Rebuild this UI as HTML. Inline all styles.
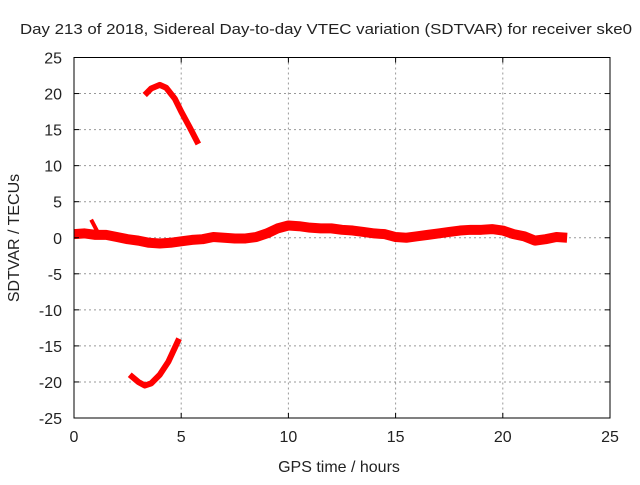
<!DOCTYPE html>
<html><head><meta charset="utf-8"><style>
body{margin:0;background:#fff}
svg text{font-family:"Liberation Sans",sans-serif;font-size:16px;fill:#222}
</style></head><body>
<svg id="c" width="640" height="480">
<text x="20" y="34" textLength="612" lengthAdjust="spacingAndGlyphs" style="font-size:15px">Day 213 of 2018, Sidereal Day-to-day VTEC variation (SDTVAR) for receiver ske0</text>
<g id="grid"></g><g id="marks"></g><g id="axes"></g>
<text x="339" y="472" text-anchor="middle">GPS time / hours</text>
<text transform="translate(19,238) rotate(-90)" text-anchor="middle">SDTVAR / TECUs</text>
</svg>
<script>
const xTicks=[0,5,10,15,20,25];
const yTicks=[-25,-20,-15,-10,-5,0,5,10,15,20,25];
const mainX=[0,0.5,1,1.5,2,2.5,3,3.5,4,4.5,5,5.5,6,6.5,7,7.5,8,8.5,9,9.5,10,10.5,11,11.5,12,12.5,13,13.5,14,14.5,15,15.5,16,16.5,17,17.5,18,18.5,19,19.5,20,20.5,21,21.5,22,22.5,23];
const mainY=[0.5,0.6,0.4,0.4,0.1,-0.2,-0.4,-0.7,-0.8,-0.7,-0.5,-0.3,-0.2,0.1,0,-0.1,-0.1,0.1,0.6,1.3,1.7,1.6,1.4,1.3,1.3,1.1,1.0,0.8,0.6,0.5,0.1,0,0.2,0.4,0.6,0.8,1.0,1.1,1.1,1.2,1.0,0.5,0.2,-0.4,-0.2,0.1,0];
const spikeX=[0.8,1.1];
const spikeY=[2.5,0.8];
const upperX=[3.3,3.6,4.0,4.3,4.7,5.0,5.4,5.8];
const upperY=[19.8,20.7,21.2,20.8,19.3,17.5,15.3,13];
const lowerX=[2.6,3.0,3.3,3.6,4.0,4.4,4.9];
const lowerY=[-19,-20,-20.5,-20.2,-19,-17.2,-14];
const L=74,R=610,T=57.5,B=418;
const sx=v=>L+(v-0)/(25-0)*(R-L);
const sy=v=>B-(v+25)/50*(B-T);
const NS="http://www.w3.org/2000/svg";
function mk(tag,attrs,parent){const e=document.createElementNS(NS,tag);for(const k in attrs)e.setAttribute(k,attrs[k]);document.getElementById(parent).appendChild(e);return e;}
xTicks.forEach(v=>{
 if(v>0&&v<25){const g=mk('line',{x1:sx(v),x2:sx(v),y1:T,y2:B,stroke:'#999','stroke-dasharray':'2,3'},'grid');
 
 }
 const t=mk('text',{x:sx(v),y:B+24,'text-anchor':'middle'},'axes');t.textContent=v;
 
 
 mk('line',{x1:sx(v),x2:sx(v),y1:B,y2:B-5,stroke:'#000'},'axes');
 mk('line',{x1:sx(v),x2:sx(v),y1:T,y2:T+5,stroke:'#000'},'axes');
});
yTicks.forEach(v=>{
 if(v>-25&&v<25){const g=mk('line',{x1:L,x2:R,y1:sy(v),y2:sy(v),stroke:'#999','stroke-dasharray':'2,3'},'grid');
 
 }
 const t=mk('text',{x:L-12,y:sy(v)+6,'text-anchor':'end'},'axes');t.textContent=v;
 
 
 mk('line',{x1:L,x2:L+5,y1:sy(v),y2:sy(v),stroke:'#000'},'axes');
 mk('line',{x1:R,x2:R-5,y1:sy(v),y2:sy(v),stroke:'#000'},'axes');
});
const fr=mk('rect',{x:L,y:T,width:R-L,height:B-T,fill:'none',stroke:'#000'},'axes');


function series(xs,ys,w,name){
 const p=mk('polyline',{points:xs.map((x,i)=>sx(x)+','+sy(ys[i])).join(' '),fill:'none',stroke:'#f00','stroke-width':w,'stroke-linejoin':'round','stroke-linecap':'butt'},'marks');
 
 
}
series(mainX,mainY,10,'main-sdtvar-series');
series(spikeX,spikeY,4,'spike-series');
series(upperX,upperY,6,'upper-arc-series');
series(lowerX,lowerY,6,'lower-arc-series');
</script>
</body></html>
